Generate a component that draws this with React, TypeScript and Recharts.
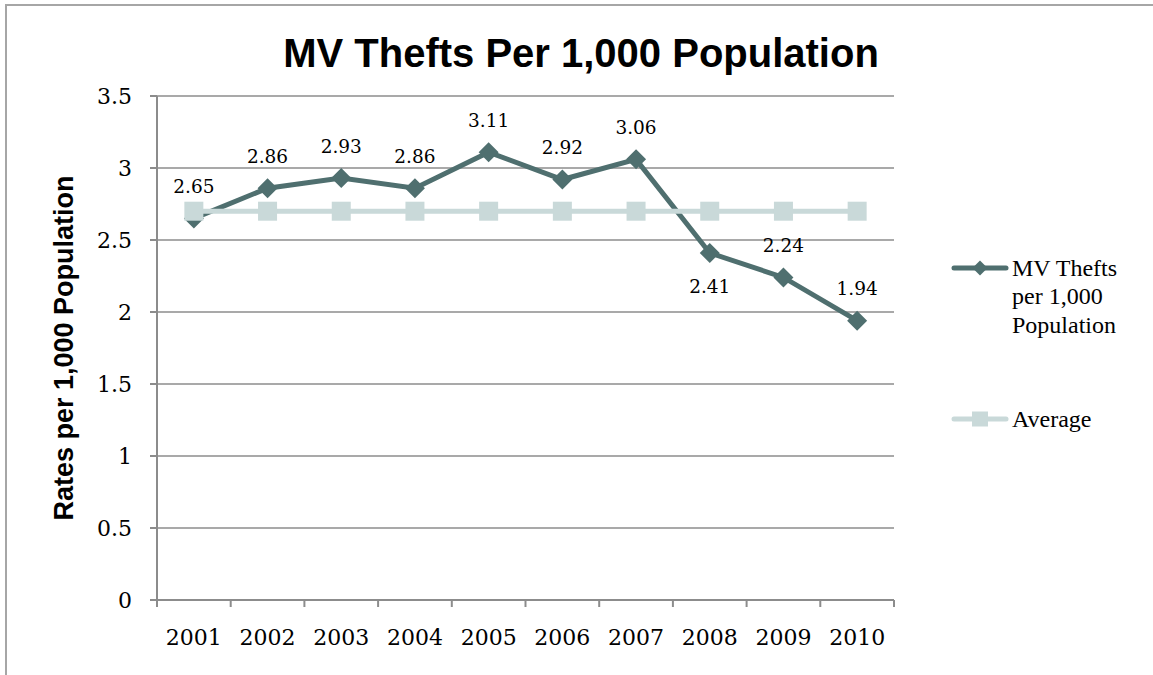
import React from 'react';
import { LineChart, Line, XAxis, YAxis, CartesianGrid, Legend, LabelList } from 'recharts';

const years = ['2001', '2002', '2003', '2004', '2005', '2006', '2007', '2008', '2009', '2010'];
const mvThefts = [2.65, 2.86, 2.93, 2.86, 3.11, 2.92, 3.06, 2.41, 2.24, 1.94];
const averageValues = [2.7, 2.7, 2.7, 2.7, 2.7, 2.7, 2.7, 2.7, 2.7, 2.7];
const labelPlacement = ['above', 'above', 'above', 'above', 'above', 'above', 'above', 'below', 'above', 'above'];
const yTicks = [0, 0.5, 1, 1.5, 2, 2.5, 3, 3.5];

const data = years.map((y, i) => ({ year: y, mv: mvThefts[i], avg: averageValues[i] }));

const W = 1153;
const H = 675;
const X_AXIS_H = 75;
const M = { top: 96, right: 259, bottom: 0, left: 0 };
const Y_AXIS_W = 157;
const PLOT_W = W - M.left - M.right - Y_AXIS_W;
const BW = PLOT_W / years.length;

const MV_COLOR = '#4f6f6f';
const AVG_COLOR = '#c9d9d9';
const GRID = '#8c8c8c';
const SERIF = '"DejaVu Serif", serif';
const LEGEND_SERIF = '"Liberation Serif", serif';

const Diamond = (props: any) => {
  const { cx, cy } = props;
  if (cx == null || cy == null) return null;
  const r = 10;
  return <path d={`M${cx},${cy - r}L${cx + r},${cy}L${cx},${cy + r}L${cx - r},${cy}Z`} fill={MV_COLOR} />;
};

const Square = (props: any) => {
  const { cx, cy } = props;
  if (cx == null || cy == null) return null;
  const s = 19;
  return <rect x={cx - s / 2} y={cy - s / 2} width={s} height={s} fill={AVG_COLOR} />;
};

const XTick = (props: any) => {
  const { x, y, payload, index } = props;
  const ay = y - 7;
  return (
    <g>
      <line x1={x - BW / 2} x2={x - BW / 2} y1={ay} y2={ay + 7} stroke={GRID} strokeWidth={2} />
      {index === years.length - 1 && (
        <line x1={x + BW / 2} x2={x + BW / 2} y1={ay} y2={ay + 7} stroke={GRID} strokeWidth={2} />
      )}
      <text x={x} y={ay + 45} textAnchor="middle" fontFamily={SERIF} fontSize={22} fill="#000">
        {payload.value}
      </text>
    </g>
  );
};

const DataLabel = (props: any) => {
  const { x, y, value, index } = props;
  const below = labelPlacement[index] === 'below';
  return (
    <text
      x={x}
      y={below ? y + 34 : y - 32}
      textAnchor="middle"
      dominantBaseline="central"
      fontFamily={SERIF}
      fontSize={18.5}
      fill="#000"
    >
      {Number(value).toFixed(2)}
    </text>
  );
};

const legendText: React.CSSProperties = {
  position: 'absolute',
  left: 62,
  fontFamily: LEGEND_SERIF,
  fontSize: 24,
  lineHeight: '28.5px',
  color: '#000',
  whiteSpace: 'nowrap',
};

const renderLegend = () => (
  <div style={{ position: 'relative', width: 203, height: 200 }}>
    <svg style={{ position: 'absolute', left: 0, top: 4 }} width={62} height={24}>
      <line x1={4} x2={56} y1={12} y2={12} stroke={MV_COLOR} strokeWidth={5} strokeLinecap="round" />
      <path d="M30,4.5L37.5,12L30,19.5L22.5,12Z" fill={MV_COLOR} />
    </svg>
    <div style={{ ...legendText, top: 1.6 }}>
      MV Thefts
      <br />
      per 1,000
      <br />
      Population
    </div>
    <svg style={{ position: 'absolute', left: 0, top: 155 }} width={62} height={24}>
      <line x1={4} x2={56} y1={12} y2={12} stroke={AVG_COLOR} strokeWidth={5} strokeLinecap="round" />
      <rect x={22} y={4.5} width={16} height={15} fill={AVG_COLOR} />
    </svg>
    <div style={{ ...legendText, top: 152.6 }}>Average</div>
  </div>
);

export default function App() {
  return (
    <div style={{ position: 'absolute', left: 0, top: 0, width: W, height: H, overflow: 'hidden', background: '#fff' }}>
      <div
        style={{
          position: 'absolute',
          left: 5,
          top: 4,
          width: 1300,
          height: 800,
          borderTop: '2px solid #a6a6a6',
          borderLeft: '2px solid #a6a6a6',
        }}
      />
      <div
        style={{
          position: 'absolute',
          left: 0,
          top: 33,
          width: 1162,
          textAlign: 'center',
          fontFamily: '"Liberation Sans", Arial, sans-serif',
          fontWeight: 'bold',
          fontSize: 40,
          lineHeight: '40px',
          color: '#000',
        }}
      >
        MV Thefts Per 1,000 Population
      </div>
      <div
        style={{
          position: 'absolute',
          left: 64 - 200,
          top: 348 - 14,
          width: 400,
          height: 28,
          textAlign: 'center',
          transform: 'rotate(-90deg)',
          transformOrigin: 'center center',
          fontFamily: '"Liberation Sans", Arial, sans-serif',
          fontWeight: 'bold',
          fontSize: 27,
          lineHeight: '28px',
          color: '#000',
          whiteSpace: 'nowrap',
        }}
      >
        Rates per 1,000 Population
      </div>
      <div style={{ position: 'absolute', left: 0, top: 0 }}>
        <LineChart width={W} height={H} data={data} margin={M}>
          <CartesianGrid vertical={false} stroke={GRID} strokeWidth={1.5} />
          <XAxis
            dataKey="year"
            interval={0}
            height={X_AXIS_H}
            padding={{ left: BW / 2, right: BW / 2 }}
            tickLine={false}
            tickSize={7}
            tickMargin={0}
            axisLine={{ stroke: GRID, strokeWidth: 2 }}
            tick={<XTick />}
          />
          <YAxis
            width={Y_AXIS_W}
            domain={[0, 3.5]}
            ticks={yTicks}
            interval={0}
            tickSize={7}
            tickMargin={18}
            tickLine={{ stroke: GRID, strokeWidth: 2 }}
            axisLine={{ stroke: GRID, strokeWidth: 2 }}
            tick={{ fontFamily: SERIF, fontSize: 22, fill: '#000' }}
          />
          <Legend
            layout="vertical"
            align="center"
            verticalAlign="middle"
            content={renderLegend}
            wrapperStyle={{ position: 'absolute', left: 950, top: 252, width: 203, height: 200 }}
          />
          <Line
            dataKey="mv"
            name="MV Thefts per 1,000 Population"
            stroke={MV_COLOR}
            strokeWidth={5}
            dot={<Diamond />}
            activeDot={false}
            isAnimationActive={false}
          >
            <LabelList dataKey="mv" content={<DataLabel />} />
          </Line>
          <Line
            dataKey="avg"
            name="Average"
            stroke={AVG_COLOR}
            strokeWidth={5}
            dot={<Square />}
            activeDot={false}
            isAnimationActive={false}
          />
        </LineChart>
      </div>
    </div>
  );
}
